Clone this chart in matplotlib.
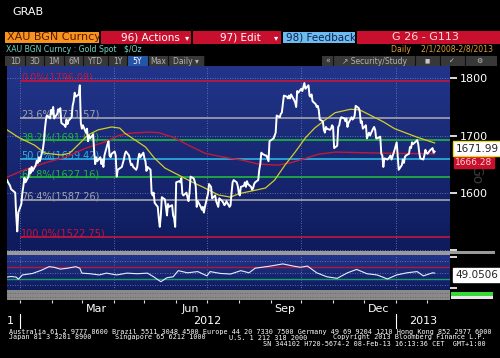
import numpy as np
import pandas as pd
import matplotlib
matplotlib.use("Agg")
import matplotlib.pyplot as plt
from matplotlib.patches import Rectangle
from matplotlib.colors import LinearSegmentedColormap
from matplotlib.transforms import blended_transform_factory, offset_copy

W, H = 500, 358

price_dates = (
    ["2011-12-19", "2011-12-20", "2011-12-22", "2011-12-23", "2011-12-27", "2011-12-28", "2011-12-29", "2011-12-30"]
    + ["2012-01-%02d" % d for d in [2, 3, 4, 5, 6, 9, 10, 11, 12, 13, 16, 17, 18, 19, 20, 23, 24, 25, 26, 27, 30, 31]]
    + ["2012-02-%02d" % d for d in [1, 2, 3, 6, 7, 8, 9, 10, 13, 14, 15, 16, 17, 20, 21, 22, 23, 24, 27, 28, 29]]
    + ["2012-03-%02d" % d for d in [1, 2, 5, 6, 7, 8, 9, 12, 13, 14, 15, 16, 19, 20, 21, 22, 23, 26, 27, 28, 29, 30]]
    + ["2012-04-%02d" % d for d in [2, 3, 4, 5, 9, 10, 11, 12, 13, 16, 17, 18, 19, 20, 23, 24, 25, 26, 27, 30]]
    + ["2012-05-%02d" % d for d in [1, 2, 3, 4, 7, 8, 9, 10, 11, 14, 15, 16, 17, 18, 21, 22, 23, 24, 25, 28, 29, 30, 31]]
    + ["2012-06-%02d" % d for d in [1, 4, 5, 6, 7, 8, 11, 12, 13, 14, 15, 18, 19, 20, 21, 22, 25, 26, 27, 28, 29]]
    + ["2012-07-%02d" % d for d in [2, 3, 5, 6, 9, 10, 11, 12, 13, 16, 17, 18, 19, 20, 23, 24, 25, 26, 27, 30, 31]]
    + ["2012-08-%02d" % d for d in [1, 2, 3, 6, 7, 8, 9, 10, 13, 14, 15, 16, 17, 20, 21, 22, 23, 24, 27, 28, 29, 30, 31]]
    + ["2012-09-%02d" % d for d in [4, 5, 6, 7, 10, 11, 12, 13, 14, 17, 18, 19, 20, 21, 24, 25, 26, 27, 28]]
    + ["2012-10-%02d" % d for d in [1, 2, 3, 4, 5, 8, 9, 10, 11, 12, 15, 16, 17, 18, 19, 22, 23, 24, 25, 26, 29, 30, 31]]
    + ["2012-11-%02d" % d for d in [1, 2, 5, 6, 7, 8, 9, 12, 13, 14, 15, 16, 19, 20, 21, 22, 23, 26, 27, 28, 29, 30]]
    + ["2012-12-%02d" % d for d in [3, 4, 5, 6, 7, 10, 11, 12, 13, 14, 17, 18, 19, 20, 21, 24, 26, 27, 28, 31]]
    + ["2013-01-%02d" % d for d in [2, 3, 4, 7, 8, 9, 10, 11, 14, 15, 16, 17, 18, 21, 22, 23, 24, 25, 28, 29, 30, 31]]
    + ["2013-02-%02d" % d for d in [1, 4, 5, 6, 7, 8]]
)
price_close = (
    [1622, 1618, 1612, 1606, 1600, 1560, 1532, 1565]
    + [1580, 1600, 1612, 1626, 1618, 1628, 1642, 1634, 1645, 1638, 1648, 1656, 1652, 1662, 1655, 1676, 1690, 1712, 1728, 1735, 1730, 1745]
    + [1738, 1750, 1730, 1738, 1746, 1742, 1748, 1722, 1718, 1715, 1728, 1720, 1726, 1732, 1752, 1760, 1775, 1768, 1772, 1788, 1722]
    + [1712, 1718, 1705, 1712, 1690, 1700, 1695, 1702, 1672, 1650, 1662, 1655, 1662, 1650, 1658, 1645, 1665, 1685, 1690, 1665, 1662, 1668]
    + [1672, 1665, 1628, 1640, 1645, 1652, 1658, 1668, 1672, 1665, 1655, 1648, 1650, 1645, 1640, 1645, 1660, 1668, 1662, 1670]
    + [1660, 1655, 1638, 1645, 1640, 1600, 1595, 1600, 1582, 1575, 1555, 1540, 1560, 1592, 1588, 1575, 1560, 1580, 1575, 1578, 1560, 1555, 1540]
    + [1618, 1620, 1618, 1625, 1598, 1595, 1600, 1592, 1585, 1600, 1628, 1625, 1620, 1612, 1575, 1585, 1575, 1570, 1575, 1565, 1575]
    + [1598, 1615, 1610, 1590, 1595, 1585, 1580, 1575, 1590, 1585, 1582, 1578, 1580, 1585, 1575, 1578, 1600, 1618, 1622, 1618, 1612]
    + [1600, 1595, 1610, 1612, 1618, 1610, 1620, 1615, 1610, 1605, 1608, 1615, 1618, 1622, 1640, 1650, 1670, 1668, 1665, 1665, 1660, 1655, 1690]
    + [1695, 1700, 1705, 1735, 1732, 1738, 1740, 1755, 1770, 1768, 1765, 1770, 1765, 1772, 1762, 1758, 1750, 1778, 1775]
    + [1782, 1778, 1785, 1792, 1782, 1788, 1770, 1768, 1772, 1760, 1755, 1750, 1752, 1745, 1728, 1725, 1710, 1705, 1715, 1712, 1710, 1712, 1718]
    + [1715, 1678, 1682, 1715, 1718, 1728, 1732, 1730, 1725, 1730, 1715, 1722, 1732, 1728, 1730, 1735, 1752, 1748, 1742, 1722, 1725, 1712]
    + [1718, 1695, 1700, 1705, 1700, 1712, 1715, 1710, 1695, 1695, 1698, 1668, 1665, 1645, 1660, 1658, 1662, 1665, 1658, 1675]
    + [1688, 1665, 1640, 1648, 1658, 1652, 1662, 1665, 1668, 1680, 1678, 1688, 1685, 1690, 1692, 1685, 1670, 1660, 1658, 1665, 1675, 1670]
    + [1668, 1675, 1676, 1678, 1670, 1671.99]
)

ma_short_dates = ["2011-12-19", "2011-12-30", "2012-01-15", "2012-01-25", "2012-02-10", "2012-02-18",
                  "2012-02-26", "2012-03-07", "2012-03-17", "2012-03-30", "2012-04-07", "2012-04-12",
                  "2012-05-02", "2012-05-11", "2012-05-21", "2012-06-03", "2012-06-16", "2012-06-29",
                  "2012-07-12", "2012-07-24", "2012-08-01", "2012-08-14", "2012-08-27", "2012-09-05",
                  "2012-09-15", "2012-09-25", "2012-10-05", "2012-10-14", "2012-10-24", "2012-11-03",
                  "2012-11-18", "2012-11-27", "2012-12-20", "2012-12-31", "2013-01-22", "2013-02-08"]
ma_short_vals = [1710, 1697, 1683, 1669, 1666, 1669,
                 1683, 1701, 1710, 1715, 1713, 1704,
                 1680, 1660, 1643, 1631, 1619, 1608,
                 1596, 1592, 1598, 1603, 1608, 1622,
                 1648, 1671, 1696, 1713, 1727, 1740,
                 1746, 1745, 1724, 1712, 1697, 1687]

ma_long_dates = ["2011-12-19", "2012-01-05", "2012-01-25", "2012-02-14", "2012-03-05", "2012-03-24",
                 "2012-04-06", "2012-04-16", "2012-05-05", "2012-05-15", "2012-05-29", "2012-06-13",
                 "2012-06-29", "2012-07-12", "2012-07-24", "2012-08-04", "2012-08-20", "2012-09-08",
                 "2012-09-22", "2012-10-05", "2012-10-17", "2012-11-03", "2012-12-22", "2013-02-08"]
ma_long_vals = [1627, 1640, 1652, 1662, 1678, 1689,
                1700, 1704, 1706, 1705, 1697, 1683,
                1669, 1664, 1660, 1657, 1650, 1648,
                1653, 1660, 1667, 1671, 1669, 1668]

rsi_dates = ["2011-12-19", "2011-12-23", "2011-12-28", "2011-12-30", "2012-01-03", "2012-01-13",
             "2012-01-22", "2012-01-29", "2012-02-03", "2012-02-09", "2012-02-16", "2012-02-24",
             "2012-02-28", "2012-03-01", "2012-03-09", "2012-03-18", "2012-03-25", "2012-04-04",
             "2012-04-14", "2012-04-24", "2012-05-04", "2012-05-10", "2012-05-17", "2012-05-23",
             "2012-05-29", "2012-06-03", "2012-06-12", "2012-06-22", "2012-07-01", "2012-07-04",
             "2012-07-14", "2012-07-24", "2012-08-03", "2012-08-11", "2012-08-17", "2012-09-01",
             "2012-09-13", "2012-09-23", "2012-09-30", "2012-10-07", "2012-10-16", "2012-10-26",
             "2012-11-05", "2012-11-15", "2012-11-24", "2012-12-04", "2012-12-14", "2012-12-24",
             "2013-01-02", "2013-01-12", "2013-01-22", "2013-01-28", "2013-02-06", "2013-02-08"]
rsi_vals = [36, 38, 36, 29, 43, 48,
            59, 70, 68, 62, 65, 70,
            65, 49, 47, 43, 49, 43,
            49, 47, 49, 37, 21, 34,
            37, 57, 50, 54, 40, 54,
            48, 46, 57, 50, 65, 72,
            79, 72, 68, 72, 50, 37,
            32, 50, 61, 47, 43, 30,
            43, 50, 54, 40, 50, 49.05]

fib_labels = ["0.0%", "23.6%", "38.2%", "50.0%", "61.8%", "76.4%", "100.0%"]
fib_prices = [1796.08, 1731.57, 1691.67, 1659.42, 1627.16, 1587.26, 1522.75]
fib_colors = ["#c8143c", "#a2a4ae", "#20b83c", "#2cb2e2", "#20b83c", "#a2a4ae", "#c8143c"]

price_ticks = [1500, 1600, 1700, 1800]
price_tick_labels = ["", "1600", "1700", "1800"]
month_names = ["Mar", "Jun", "Sep", "Dec"]
month_mid = ["2012-03-15", "2012-06-15", "2012-09-15", "2012-12-15"]
quarter_starts = ["2012-01-01", "2012-04-01", "2012-07-01", "2012-10-01", "2013-01-01"]

last_price = 1671.99
last_ma = "1666.28"
last_rsi = 49.0506

x_lo, x_hi = pd.Timestamp("2011-12-19"), pd.Timestamp("2013-02-23")

# ---- figure ----
fig = plt.figure(figsize=(W / 100, H / 100), dpi=100, facecolor="black")


def px_axes(x0, y0, x1, y1):
    return fig.add_axes([x0 / W, 1 - y1 / H, (x1 - x0) / W, (y1 - y0) / H])


# overlay in pixel space for the terminal chrome
ov = px_axes(0, 0, W, H)
ov.set_xlim(0, W)
ov.set_ylim(H, 0)
ov.axis("off")

ov.text(12, 12, "GRAB", color="white", fontsize=8, va="center")
ov.add_patch(Rectangle((5, 31.5), 94, 11.5, fc="#f7941d", ec="none"))
ov.text(7, 37.5, "XAU BGN Curncy", color="#5a1800", fontsize=8, va="center")
for x0, x1 in [(101, 191), (193, 281), (357, 500)]:
    ov.add_patch(Rectangle((x0, 31), x1 - x0, 13, fc="#c8102e", ec="none"))
ov.add_patch(Rectangle((283, 32), 72, 11, fc="#6cbcf0", ec="none"))
ov.text(121, 37.5, "96) Actions", color="white", fontsize=7.5, va="center")
ov.text(187, 37.5, "\u25be", color="white", fontsize=6, va="center", ha="center")
ov.text(220, 37.5, "97) Edit", color="white", fontsize=7.5, va="center")
ov.text(276, 37.5, "\u25be", color="white", fontsize=6, va="center", ha="center")
ov.text(286, 37.5, "98) Feedback", color="#102050", fontsize=7.5, va="center")
ov.text(425, 37.5, "G 26 - G113", color="#ffd8d8", fontsize=8, va="center", ha="center")

ov.text(6, 49.5, "XAU BGN Curncy : Gold Spot   $/Oz", color="#70d8c8", fontsize=5.6, va="center")
ov.text(493, 49.5, "Daily    2/1/2008-2/8/2013", color="#e0a030", fontsize=5.6, va="center", ha="right")

# toolbar
ov.add_patch(Rectangle((5, 55.5), 200, 10.5, fc="#383838", ec="none"))
ov.add_patch(Rectangle((322, 55.5), 175, 10.5, fc="#383838", ec="none"))
ov.add_patch(Rectangle((127, 55.5), 21, 10.5, fc="#2456a8", ec="none"))
for sx in [25, 44, 64, 83, 108, 127, 148, 168, 204, 333, 415, 440, 465]:
    ov.plot([sx, sx], [55.5, 66], color="#111111", lw=0.8)
for lbl, cx in [("1D", 16), ("3D", 35), ("1M", 54), ("6M", 74), ("YTD", 96), ("1Y", 118),
                ("5Y", 137.5), ("Max", 158), ("Daily \u25be", 186)]:
    ov.text(cx, 61, lbl, color="white" if lbl == "5Y" else "#b4b4b4", fontsize=5.5,
            ha="center", va="center")
ov.text(327.5, 61, "\u00ab", color="#b4b4b4", fontsize=5.5, ha="center", va="center")
ov.text(375, 61, "\u2197 Security/Study", color="#b4b4b4", fontsize=5.5, ha="center", va="center")
ov.text(427, 61, "\u25a0", color="#c8c8c8", fontsize=4, ha="center", va="center")
ov.text(452, 61, "\u2713", color="#c8c8c8", fontsize=5, ha="center", va="center")
ov.text(479, 61, "\u2699", color="#c8c8c8", fontsize=5, ha="center", va="center")

# separators / strips
ov.add_patch(Rectangle((7, 251), 443, 4, fc="#9a9a9a", ec="none"))
ov.add_patch(Rectangle((450, 251), 45, 3, fc="#9a9a9a", ec="none"))
ov.add_patch(Rectangle((451, 292), 42, 4, fc="#38d838", ec="none"))
ov.add_patch(Rectangle((451, 296), 42, 3, fc="#e8e8e8", ec="none"))
ov.text(476, 175, "Go", color="#3c3c3c", fontsize=10, rotation=-90, ha="center", va="center")

mono = dict(color="white", fontsize=4.9, family="DejaVu Sans Mono", va="center")
ov.text(9, 332, "Australia 61 2 9777 8600 Brazil 5511 3048 4500 Europe 44 20 7330 7500 "
        "Germany 49 69 9204 1210 Hong Kong 852 2977 6000", **mono)
ov.text(9, 337.5, "Japan 81 3 3201 8900", **mono)
ov.text(115, 337.5, "Singapore 65 6212 1000", **mono)
ov.text(229, 337.5, "U.S. 1 212 318 2000", **mono)
ov.text(486, 337.5, "Copyright 2013 Bloomberg Finance L.P.", ha="right", **mono)
ov.text(486, 343.5, "SN 344102 H720-5674-2 08-Feb-13 16:13:36 CET  GMT+1:00", ha="right", **mono)

panel_cmap = LinearSegmentedColormap.from_list("panel", ["#0e1b5c", "#22358a"])
grad = np.linspace(0, 1, 256).reshape(-1, 1)
grid_kw = dict(color="#7484c0", lw=0.6, ls=(0, (1, 2)))

pdates = pd.to_datetime(price_dates)
q_dates = pd.to_datetime(quarter_starts)

# ---- main price panel ----
ax = px_axes(7, 66, 450, 251)
ax.imshow(grad, extent=[0, 1, 0, 1], transform=ax.transAxes, cmap=panel_cmap,
          origin="lower", aspect="auto", zorder=0)
ax.set_xlim(x_lo, x_hi)
ax.set_ylim(1497.7, 1821.8)
for sp in ax.spines.values():
    sp.set_visible(False)
ax.set_xticks(q_dates)
ax.tick_params(axis="x", length=0, labelbottom=False)
ax.yaxis.tick_right()
ax.set_yticks(price_ticks)
ax.set_yticklabels(price_tick_labels)
ax.tick_params(axis="y", colors="white", length=5, width=1.2, pad=2, labelsize=8)
ax.grid(True, **grid_kw)
ax.set_axisbelow(True)

fib_start = pd.Timestamp("2012-01-01")
for lbl, val, col in zip(fib_labels, fib_prices, fib_colors):
    ax.hlines(val, fib_start, x_hi, color=col, lw=1.2, zorder=2)
    ax.text(fib_start + pd.Timedelta(days=1), val, "%s(%.2f)" % (lbl, val), color=col,
            fontsize=7, va="baseline", ha="left", zorder=2.5)

ax.plot(pd.to_datetime(ma_long_dates), ma_long_vals, color="#c01a3a", lw=1.0, zorder=3)
ax.plot(pd.to_datetime(ma_short_dates), ma_short_vals, color="#d4cc28", lw=0.9, zorder=3)
ax.plot(pdates, price_close, color="white", lw=1.4, zorder=4)

# last-value tags on the right (red one tucked under the white one)
ytr = blended_transform_factory(ax.transAxes, ax.transData)
ax.text(1.012, last_price, last_ma, transform=offset_copy(ytr, fig=fig, x=0, y=-11, units="dots"),
        color="#ffd0d0", fontsize=6.5, va="center", ha="left", clip_on=False,
        bbox=dict(boxstyle="square,pad=0.15", fc="#c8102e", ec="#c8102e"))
ax.text(1.012, last_price, "%.2f" % last_price,
        transform=offset_copy(ytr, fig=fig, x=0, y=3, units="dots"),
        color="#222222", fontsize=7.5, va="center", ha="left", clip_on=False,
        bbox=dict(boxstyle="square,pad=0.2", fc="white", ec="#e8d820", lw=1))

# ---- RSI panel ----
ar = px_axes(7, 255, 450, 290)
ar.imshow(grad, extent=[0, 1, 0, 1], transform=ar.transAxes, cmap=panel_cmap,
          origin="lower", aspect="auto", zorder=0)
ar.set_xlim(x_lo, x_hi)
ar.set_ylim(-6, 108)
for sp in ar.spines.values():
    sp.set_visible(False)
ar.set_xticks(q_dates)
ar.tick_params(axis="x", length=0, labelbottom=False)
ar.grid(True, axis="x", **grid_kw)
ar.yaxis.tick_right()
ar.set_yticks([0, 100])
ar.set_yticklabels(["", ""])
ar.tick_params(axis="y", colors="white", length=5, width=1.2)
for lv in [10, 50, 90]:
    ar.axhline(lv, zorder=1, **grid_kw)
ar.axhline(70, color="#b41838", lw=1.0, zorder=2)
ar.axhline(30, color="#1e9a70", lw=1.0, zorder=2)
ar.plot(pd.to_datetime(rsi_dates), rsi_vals, color="#e8ecff", lw=0.8, zorder=3)
rtr = blended_transform_factory(ar.transAxes, ar.transData)
ar.text(1.012, last_rsi, "%.4f" % last_rsi, transform=offset_copy(rtr, fig=fig, x=0, y=-2, units="dots"),
        color="#222222", fontsize=7.5, va="center", ha="left", clip_on=False,
        bbox=dict(boxstyle="square,pad=0.2", fc="white", ec="white"))

# ---- grey strip under the panels ----
ast = px_axes(7, 290, 450, 300)
ast.set_facecolor("#8a8a8a")
ast.set_xlim(x_lo, x_hi)
ast.set_ylim(0, 1)
for sp in ast.spines.values():
    sp.set_visible(False)
for lv in [0.35, 0.7]:
    ast.axhline(lv, color="#5a5a5a", lw=0.6, ls=(0, (1, 2)))
ast.set_yticks([])
ast.set_xticks(pd.date_range("2012-01-01", "2013-02-01", freq="MS"))
ast.tick_params(axis="x", length=2, width=0.8, color="#dddddd", labelbottom=False)

# ---- date labels ----
axl = px_axes(7, 300, 450, 330)
axl.set_xlim(x_lo, x_hi)
axl.set_ylim(330, 300)
axl.axis("off")
for nm, d in zip(month_names, pd.to_datetime(month_mid)):
    axl.text(d, 309, nm, color="white", fontsize=8, ha="center", va="center")
axl.text(pd.Timestamp("2012-07-01"), 321, "2012", color="white", fontsize=8, ha="center", va="center")
axl.text(pd.Timestamp("2013-01-28"), 321, "2013", color="white", fontsize=8, ha="center", va="center")
axl.text(pd.Timestamp("2011-12-22"), 321, "1", color="white", fontsize=8, ha="center", va="center")
for d in [pd.Timestamp("2012-01-01"), pd.Timestamp("2013-01-01")]:
    axl.plot([d, d], [314, 328], color="white", lw=0.8, clip_on=False)

fig.savefig("out.png", dpi=100, facecolor="black")
